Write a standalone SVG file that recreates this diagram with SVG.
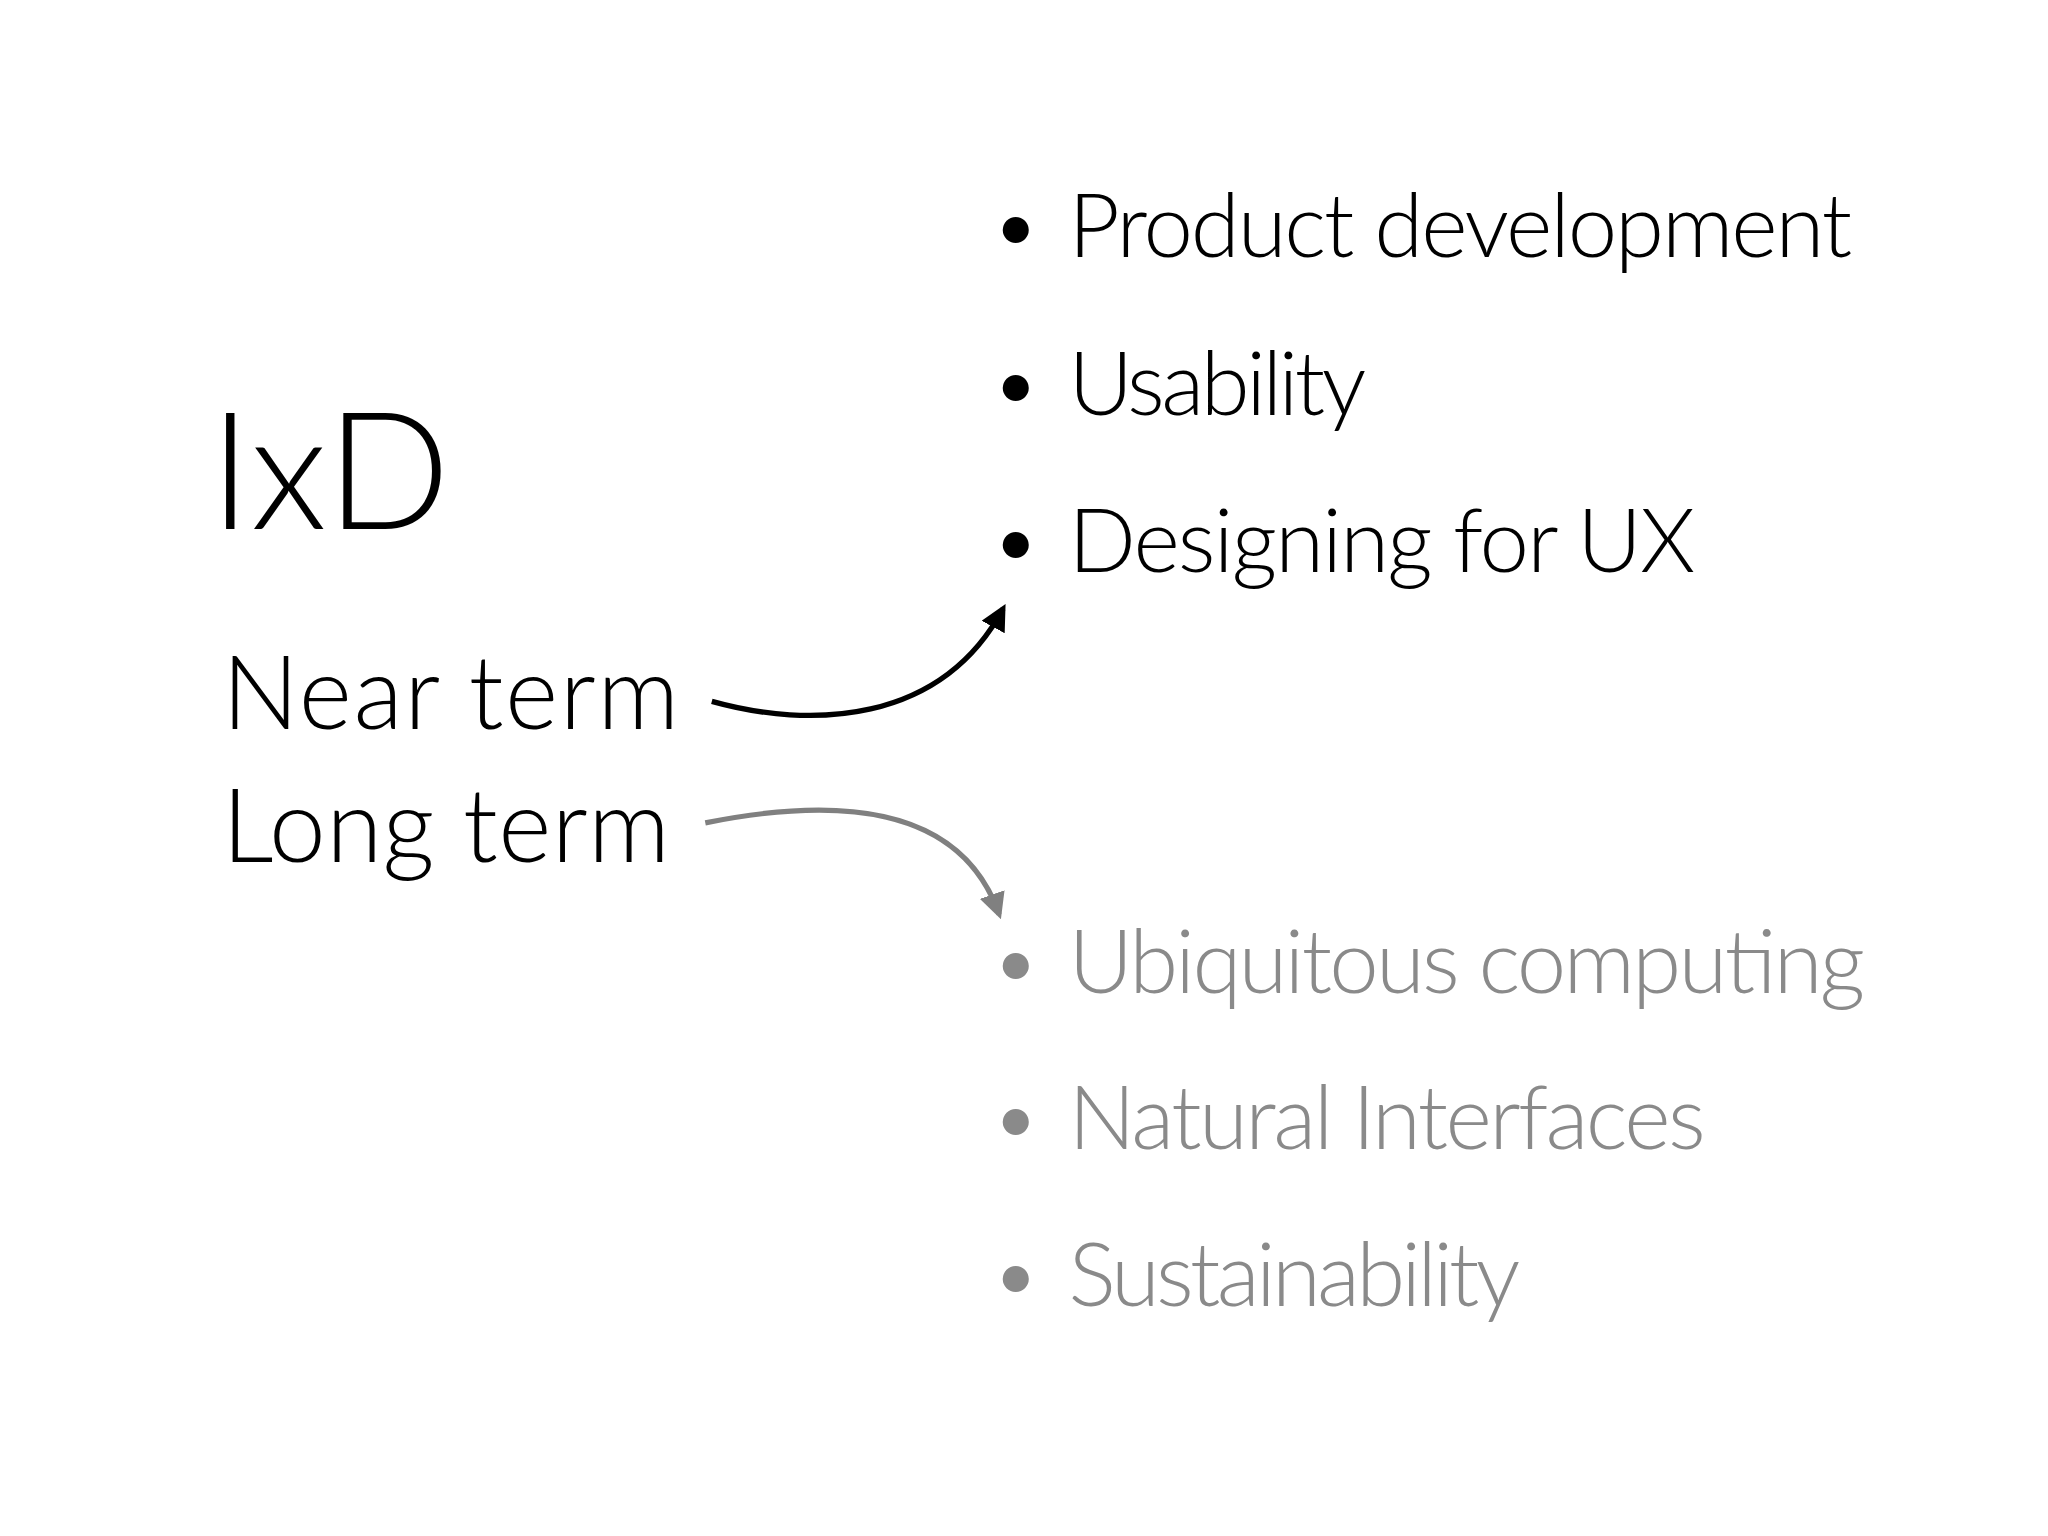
<svg xmlns="http://www.w3.org/2000/svg" width="2048" height="1536" viewBox="0 0 2048 1536">
<style>
text{font-family:Lato,"Liberation Sans",sans-serif;font-weight:300}
.b{fill:#000}.g{fill:#8a8a8a}
.item{font-size:68px}
</style>
<defs>
<marker id="ab" viewBox="0 0 10 10" refX="8" refY="5" markerWidth="5" markerHeight="5" orient="auto"><path d="M0,0 L10,5 L0,10 Z" fill="#000"/></marker>
<marker id="ag" viewBox="0 0 10 10" refX="8" refY="5" markerWidth="5" markerHeight="5" orient="auto"><path d="M0,0 L10,5 L0,10 Z" fill="#808080"/></marker>
</defs>
<rect width="2048" height="1536" fill="#fff"/>
<g transform="scale(1.3061)">
<g id="ixd"><text x="160" y="405" font-size="125" class="b">IxD</text></g>
<g id="near"><text x="170" y="558" font-size="78" class="b" textLength="350">Near term</text></g>
<g id="long"><text x="170" y="660" font-size="78" class="b" textLength="343">Long term</text></g>
<g id="near-list" class="item b">
<text x="758" y="197">•</text><text x="818" y="197" textLength="600">Product development</text>
<text x="758" y="318">•</text><text x="818" y="318" textLength="228">Usability</text>
<text x="758" y="438">•</text><text x="818" y="438" textLength="480">Designing for UX</text>
</g>
<g id="long-list" class="item g">
<text x="758" y="760">•</text><text x="818" y="760" textLength="610">Ubiquitous computing</text>
<text x="758" y="880">•</text><text x="818" y="880" textLength="488">Natural Interfaces</text>
<text x="758" y="1000">•</text><text x="818" y="1000" textLength="346">Sustainability</text>
</g>
<g id="connectors" fill="none" stroke-width="4">
<path d="M545,537 C620,558 720,555 768,466" stroke="#000" marker-end="url(#ab)"/>
<path d="M540,630 C640,610 735,615 765,700" stroke="#808080" marker-end="url(#ag)"/>
</g>
</g>
</svg>
